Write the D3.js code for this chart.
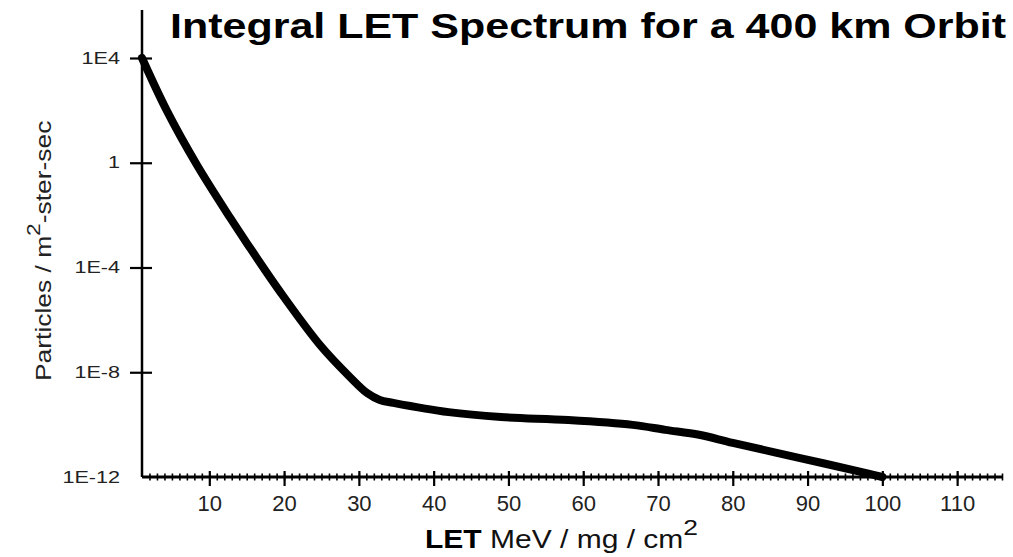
<!DOCTYPE html>
<html>
<head>
<meta charset="utf-8">
<script src="https://cdn.jsdelivr.net/npm/d3@7"></script>
<style>
  html, body { margin: 0; padding: 0; background: #fff; }
  svg { display: block; font-family: "Liberation Sans", Arial, Helvetica, sans-serif; }
</style>
</head>
<body>
<svg id="chart" width="1013" height="557"></svg>
<script>
// ---- data ----
const letValues = [1, 4.3, 8.35, 12.8, 15, 19.5, 24.8, 28.8, 31.1, 32.8, 34.6, 42, 49, 58, 66.6, 71, 75.5, 80, 89, 98, 100];
const fluxValues = [1e4, 1e2, 8.2e-1, 7.8e-3, 8.7e-4, 1.15e-5, 1.1e-7, 6.6e-9, 1.6e-9, 8.7e-10, 6.8e-10, 3e-10, 1.95e-10, 1.5e-10, 9.8e-11, 6.3e-11, 4.1e-11, 2e-11, 5.3e-12, 1.38e-12, 1e-12];
const yTickValues = [1e4, 1, 1e-4, 1e-8, 1e-12];
const yTickLabels = ["1E4", "1", "1E-4", "1E-8", "1E-12"];
const xTickValues = [10, 20, 30, 40, 50, 60, 70, 80, 90, 100, 110];
const xMinorValues = d3.range(2, 117);
const titleText = "Integral LET Spectrum for a 400 km Orbit";

const svg = d3.select("#chart");

const x = d3.scaleLinear().domain([1, 116]).range([142, 1002]);
const y = d3.scaleLog().domain([1e-12, 1e4]).range([477, 58]);

// title
svg.append("text")
  .attr("x", 170).attr("y", 38)
  .attr("font-size", 35).attr("font-weight", "bold")
  .attr("textLength", 836).attr("lengthAdjust", "spacingAndGlyphs")
  .attr("fill", "#000")
  .text(titleText);

// y axis line
svg.append("line")
  .attr("x1", x(1)).attr("x2", x(1))
  .attr("y1", 10).attr("y2", y(1e-12))
  .attr("stroke", "#000").attr("stroke-width", 2.5);

// y axis ticks & labels
const yAxis = d3.axisLeft(y)
  .tickValues(yTickValues)
  .tickFormat((d, i) => yTickLabels[i])
  .tickSizeOuter(0);
const gy = svg.append("g").attr("transform", `translate(${x(1)},0)`).call(yAxis);
gy.select(".domain").remove();
gy.selectAll(".tick line")
  .attr("x1", (d) => d === 1e-12 ? 0 : 10)
  .attr("x2", (d) => d === 1e-12 ? 0 : -12)
  .attr("stroke", "#000").attr("stroke-width", 2.2);
gy.selectAll(".tick text")
  .attr("x", 0)
  .attr("transform", "translate(-22,0) scale(1.35,1)")
  .attr("font-size", 16)
  .attr("font-family", "Liberation Sans, Arial, sans-serif")
  .attr("fill", "#222");

// x axis line
svg.append("line")
  .attr("x1", x(1)).attr("x2", x(116))
  .attr("y1", y(1e-12)).attr("y2", y(1e-12))
  .attr("stroke", "#000").attr("stroke-width", 3);

// minor x ticks
const xMinor = d3.axisBottom(x).tickValues(xMinorValues).tickFormat("").tickSize(0);
const gxm = svg.append("g").attr("transform", `translate(0,${y(1e-12)})`).call(xMinor);
gxm.select(".domain").remove();
gxm.selectAll(".tick line").attr("y1", -3.5).attr("y2", 3.5).attr("stroke", "#000").attr("stroke-width", 1.6);

// major x ticks
const xAxis = d3.axisBottom(x).tickValues(xTickValues).tickFormat(d3.format("d")).tickSizeOuter(0);
const gx = svg.append("g").attr("transform", `translate(0,${y(1e-12)})`).call(xAxis);
gx.select(".domain").remove();
gx.selectAll(".tick line").attr("y1", -6).attr("y2", 9).attr("stroke", "#000").attr("stroke-width", 2.2);
gx.selectAll(".tick text")
  .attr("y", 18)
  .attr("font-size", 22)
  .attr("font-family", "Liberation Sans, Arial, sans-serif")
  .attr("fill", "#222");

// curve
const data = letValues.map((v, i) => ({ x: v, y: fluxValues[i] }));
const line = d3.line()
  .x((d) => x(d.x))
  .y((d) => y(d.y))
  .curve(d3.curveCatmullRom.alpha(0.5));
svg.append("path")
  .datum(data)
  .attr("d", line)
  .attr("fill", "none")
  .attr("stroke", "#000")
  .attr("stroke-width", 8)
  .attr("stroke-linecap", "round")
  .attr("stroke-linejoin", "round");

// x axis label
const xl = svg.append("text")
  .attr("transform", "translate(425,548) scale(1.2,1)")
  .attr("font-size", 25)
  .attr("fill", "#111");
xl.append("tspan").attr("font-weight", "bold").attr("fill", "#000").text("LET");
xl.append("tspan").text(" MeV / mg / cm");
xl.append("tspan").attr("dy", -13).attr("font-size", 22).text("2");

// y axis label
const yl = svg.append("text")
  .attr("transform", "translate(51,381) rotate(-90) scale(1.2,1)")
  .attr("font-size", 22)
  .attr("fill", "#222");
yl.append("tspan").text("Particles / m");
yl.append("tspan").attr("dy", -11).attr("font-size", 19).text("2");
yl.append("tspan").attr("dy", 11).text("-ster-sec");
</script>
</body>
</html>
